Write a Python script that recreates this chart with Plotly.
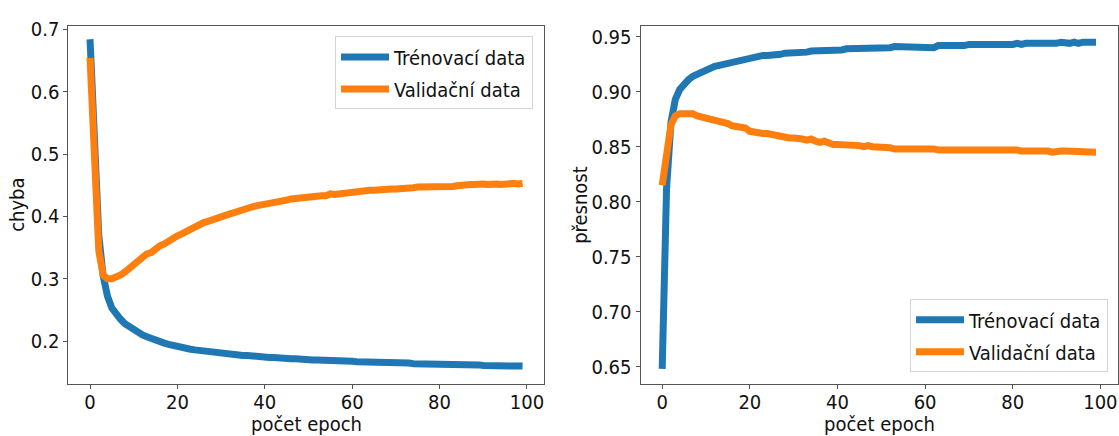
import plotly.graph_objects as go
from plotly.subplots import make_subplots

epochs = list(range(100))

train_loss = [0.684, 0.52, 0.37, 0.305, 0.272, 0.253, 0.243, 0.235, 0.228, 0.223,
              0.218, 0.214, 0.210, 0.207, 0.204, 0.201, 0.199, 0.197, 0.195, 0.193,
              0.191, 0.190, 0.188, 0.187, 0.186, 0.185, 0.184, 0.183, 0.182, 0.181,
              0.180, 0.180, 0.179, 0.178, 0.178, 0.177, 0.177, 0.176, 0.176, 0.175,
              0.175, 0.174, 0.174, 0.173, 0.173, 0.172, 0.172, 0.172, 0.171, 0.171,
              0.171, 0.170, 0.170, 0.170, 0.169, 0.169, 0.169, 0.168, 0.168, 0.168,
              0.168, 0.167, 0.167, 0.167, 0.167, 0.166, 0.166, 0.166, 0.166, 0.165,
              0.165, 0.165, 0.165, 0.165, 0.164, 0.164, 0.164, 0.164, 0.164, 0.163,
              0.163, 0.163, 0.163, 0.163, 0.162, 0.162, 0.162, 0.162, 0.162, 0.162,
              0.161, 0.161, 0.161, 0.161, 0.161, 0.161, 0.160, 0.160, 0.160, 0.160]

val_loss = [0.654, 0.47, 0.345, 0.306, 0.300, 0.300, 0.302, 0.306, 0.311, 0.317,
            0.322, 0.328, 0.334, 0.340, 0.342, 0.348, 0.353, 0.356, 0.361, 0.365,
            0.369, 0.372, 0.376, 0.380, 0.383, 0.386, 0.390, 0.392, 0.395, 0.397,
            0.399, 0.402, 0.404, 0.406, 0.409, 0.410, 0.412, 0.415, 0.417, 0.418,
            0.419, 0.420, 0.422, 0.424, 0.425, 0.426, 0.428, 0.429, 0.430, 0.431,
            0.432, 0.432, 0.432, 0.433, 0.433, 0.436, 0.435, 0.436, 0.437, 0.437,
            0.438, 0.440, 0.442, 0.441, 0.442, 0.442, 0.443, 0.443, 0.444, 0.444,
            0.444, 0.444, 0.445, 0.446, 0.446, 0.447, 0.447, 0.446, 0.447, 0.447,
            0.447, 0.448, 0.448, 0.448, 0.449, 0.450, 0.452, 0.451, 0.451, 0.452,
            0.452, 0.451, 0.452, 0.452, 0.451, 0.452, 0.452, 0.453, 0.452, 0.453]

train_acc = [0.648, 0.812, 0.872, 0.893, 0.902, 0.907, 0.911, 0.914, 0.916, 0.918,
             0.920, 0.921, 0.923, 0.924, 0.925, 0.926, 0.927, 0.928, 0.929, 0.930,
             0.930, 0.931, 0.932, 0.933, 0.933, 0.933, 0.934, 0.934, 0.935, 0.935,
             0.935, 0.936, 0.936, 0.936, 0.937, 0.937, 0.937, 0.937, 0.938, 0.938,
             0.938, 0.938, 0.939, 0.939, 0.939, 0.939, 0.939, 0.940, 0.940, 0.940,
             0.940, 0.940, 0.940, 0.941, 0.941, 0.941, 0.941, 0.941, 0.941, 0.941,
             0.941, 0.940, 0.940, 0.942, 0.942, 0.942, 0.941, 0.942, 0.942, 0.942,
             0.943, 0.943, 0.943, 0.943, 0.943, 0.942, 0.943, 0.943, 0.943, 0.943,
             0.943, 0.944, 0.943, 0.944, 0.944, 0.943, 0.944, 0.944, 0.944, 0.944,
             0.944, 0.945, 0.944, 0.944, 0.945, 0.944, 0.945, 0.945, 0.944, 0.945]

val_acc = [0.815, 0.848, 0.870, 0.878, 0.880, 0.880, 0.880, 0.880, 0.878, 0.877,
           0.877, 0.875, 0.874, 0.873, 0.872, 0.871, 0.869, 0.868, 0.868, 0.867,
           0.864, 0.863, 0.862, 0.862, 0.862, 0.861, 0.860, 0.860, 0.859, 0.858,
           0.858, 0.858, 0.857, 0.856, 0.857, 0.855, 0.854, 0.855, 0.853, 0.852,
           0.852, 0.852, 0.852, 0.851, 0.851, 0.851, 0.850, 0.851, 0.850, 0.850,
           0.850, 0.849, 0.849, 0.848, 0.848, 0.848, 0.849, 0.848, 0.848, 0.849,
           0.849, 0.848, 0.848, 0.847, 0.847, 0.848, 0.848, 0.848, 0.848, 0.848,
           0.847, 0.847, 0.847, 0.847, 0.847, 0.847, 0.847, 0.847, 0.847, 0.847,
           0.848, 0.847, 0.846, 0.846, 0.847, 0.846, 0.846, 0.846, 0.846, 0.845,
           0.846, 0.846, 0.846, 0.846, 0.846, 0.846, 0.846, 0.845, 0.846, 0.845]

x_ticks = [0, 20, 40, 60, 80, 100]
x_tick_labels = ["0", "20", "40", "60", "80", "100"]
loss_ticks = [0.2, 0.3, 0.4, 0.5, 0.6, 0.7]
loss_tick_labels = ["0.2", "0.3", "0.4", "0.5", "0.6", "0.7"]
acc_ticks = [0.65, 0.70, 0.75, 0.80, 0.85, 0.90, 0.95]
acc_tick_labels = ["0.65", "0.70", "0.75", "0.80", "0.85", "0.90", "0.95"]

names = ["Trénovací data", "Validační data"]
colors = ["#1f77b4", "#ff7f0e"]
FONT = "DejaVu Sans Condensed, DejaVu Sans, sans-serif"
W, H = 1119, 436

fig = make_subplots(rows=1, cols=2)

for i, (series, leg, grp) in enumerate([(train_loss, "legend", "a"), (val_loss, "legend", "b")]):
    fig.add_trace(go.Scatter(x=epochs, y=series, mode="lines", name=names[i],
                             line=dict(color=colors[i], width=7),
                             legend=leg, legendgroup=grp), row=1, col=1)
for i, (series, leg, grp) in enumerate([(train_acc, "legend2", "c"), (val_acc, "legend2", "d")]):
    fig.add_trace(go.Scatter(x=epochs, y=series, mode="lines", name=names[i],
                             line=dict(color=colors[i], width=7),
                             legend=leg, legendgroup=grp), row=1, col=2)

axis_common = dict(showline=True, linecolor="#555", linewidth=1, mirror=True,
                   showgrid=False, zeroline=False, ticks="outside", ticklen=4,
                   tickcolor="#555", tickwidth=1,
                   tickfont=dict(family=FONT, size=20, color="#111"))

fig.update_xaxes(**axis_common, range=[-4.95, 103.95], tickmode="array",
                 tickvals=x_ticks, ticktext=x_tick_labels, ticklabelstandoff=-4)
fig.update_layout(
    xaxis=dict(domain=[68.4 / W, 544.2 / W]),
    xaxis2=dict(domain=[640.5 / W, 1117.7 / W]),
)
fig.update_yaxes(**axis_common)
fig.update_layout(
    yaxis=dict(domain=[(H - 383) / H, (H - 17.3) / H], range=[0.1312, 0.7053],
               tickmode="array", tickvals=loss_ticks, ticktext=loss_tick_labels),
    yaxis2=dict(domain=[(H - 383) / H, (H - 17.3) / H], range=[0.6342, 0.9598],
                tickmode="array", tickvals=acc_ticks, ticktext=acc_tick_labels),
)

legend_common = dict(bgcolor="rgba(255,255,255,0.8)", bordercolor="#d4d4d4",
                     borderwidth=1, font=dict(family=FONT, size=20, color="#111"),
                     itemwidth=48, tracegroupgap=3)
fig.update_layout(
    legend=dict(**legend_common, x=533 / W, y=(H - 28) / H, xanchor="right", yanchor="top"),
    legend2=dict(**legend_common, x=1108 / W, y=(H - 371) / H, xanchor="right", yanchor="bottom"),
)

title_font = dict(family=FONT, size=20, color="#111")
fig.add_annotation(text="počet epoch", x=(68.4 + 544.2) / 2 / W, y=(H - 424) / H,
                   xref="paper", yref="paper", showarrow=False, font=title_font,
                   xanchor="center", yanchor="middle")
fig.add_annotation(text="počet epoch", x=(640.5 + 1117.7) / 2 / W, y=(H - 424) / H,
                   xref="paper", yref="paper", showarrow=False, font=title_font,
                   xanchor="center", yanchor="middle")
fig.add_annotation(text="chyba", x=17 / W, y=(H - 200) / H, textangle=-90,
                   xref="paper", yref="paper", showarrow=False, font=title_font,
                   xanchor="center", yanchor="middle")
fig.add_annotation(text="přesnost", x=580 / W, y=(H - 200) / H, textangle=-90,
                   xref="paper", yref="paper", showarrow=False, font=title_font,
                   xanchor="center", yanchor="middle")

fig.update_layout(width=W, height=H, margin=dict(l=0, r=0, t=0, b=0),
                  paper_bgcolor="white", plot_bgcolor="white", showlegend=True)

fig.write_html("out.html")
